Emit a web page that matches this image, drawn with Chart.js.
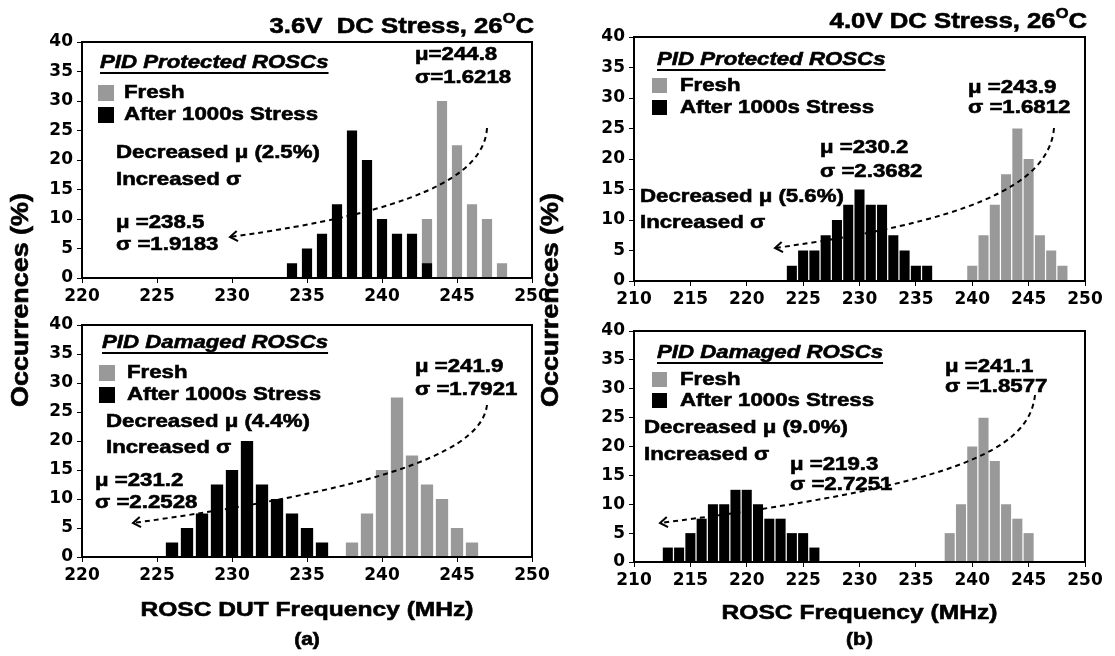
<!DOCTYPE html>
<html>
<head>
<meta charset="utf-8">
<script src="https://cdn.jsdelivr.net/npm/chart.js@4.4.1/dist/chart.umd.min.js"></script>
<style>
  body { margin: 0; background: #fff; }
  #wrap { position: relative; width: 1115px; height: 656px; overflow: hidden; }
  #wrap canvas { position: absolute; left: 0; top: 0; }
</style>
</head>
<body>
<div id="wrap">
  <canvas id="a1" width="1115" height="656"></canvas>
  <canvas id="a2" width="1115" height="656"></canvas>
  <canvas id="b1" width="1115" height="656"></canvas>
  <canvas id="b2" width="1115" height="656"></canvas>
</div>
<script>
const TICK_FONT = '"DejaVu Sans", sans-serif';
const TEXT_FONT = '"Liberation Sans", Arial, sans-serif';
const TEXT_STRETCH = 1.17; // labels are set a little wider than plain Arial
const GRAY = '#999999';

// tick labels
const xTicksA = [220, 225, 230, 235, 240, 245, 250];
const xTicksB = [210, 215, 220, 225, 230, 235, 240, 245, 250];
const yTicks = [0, 5, 10, 15, 20, 25, 30, 35, 40];

// (a) 3.6V stress, PID protected ROSCs -- bin centre (MHz) / occurrences (%)
const freqA1Fresh = [243, 244, 245, 246, 247, 248];
const occA1Fresh = [10, 30, 22.5, 12.5, 10, 2.5];
const freqA1Stress = [234, 235, 236, 237, 238, 239, 240, 241, 242, 243];
const occA1Stress = [2.5, 5, 7.5, 12.5, 25, 20, 10, 7.5, 7.5, 2.5];

// (a) 3.6V stress, PID damaged ROSCs
const freqA2Fresh = [238, 239, 240, 241, 242, 243, 244, 245, 246];
const occA2Fresh = [2.5, 7.5, 15, 27.5, 17.5, 12.5, 10, 5, 2.5];
const freqA2Stress = [226, 227, 228, 229, 230, 231, 232, 233, 234, 235, 236];
const occA2Stress = [2.5, 5, 7.5, 12.5, 15, 20, 12.5, 10, 7.5, 5, 2.5];

// (b) 4.0V stress, PID protected ROSCs
const freqB1Fresh = [240, 241, 242, 243, 244, 245, 246, 247, 248];
const occB1Fresh = [2.5, 7.5, 12.5, 17.5, 25, 20, 7.5, 5, 2.5];
const freqB1Stress = [224, 225, 226, 227, 228, 229, 230, 231, 232, 233, 234, 235, 236];
const occB1Stress = [2.5, 5, 5, 7.5, 10, 12.5, 15, 12.5, 12.5, 7.5, 5, 2.5, 2.5];

// (b) 4.0V stress, PID damaged ROSCs
const freqB2Fresh = [238, 239, 240, 241, 242, 243, 244, 245];
const occB2Fresh = [5, 10, 20, 25, 17.5, 10, 7.5, 5];
const freqB2Stress = [213, 214, 215, 216, 217, 218, 219, 220, 221, 222, 223, 224, 225, 226];
const occB2Stress = [2.5, 2.5, 5, 7.5, 10, 10, 12.5, 12.5, 10, 7.5, 7.5, 5, 5, 2.5];

const toPoints = (xs, ys) => xs.map((x, i) => ({ x: x, y: ys[i] }));

// draws heavy text widened by TEXT_STRETCH, returns the drawn width
function wideText(ctx, text, x, y, font, align) {
  ctx.font = font;
  const w = ctx.measureText(text).width * TEXT_STRETCH;
  let x0 = x;
  if (align === 'center') x0 = x - w / 2;
  else if (align === 'right') x0 = x - w;
  ctx.save();
  ctx.translate(x0, y);
  ctx.scale(TEXT_STRETCH, 1);
  ctx.textAlign = 'left';
  ctx.lineWidth = 0.6;
  ctx.strokeStyle = ctx.fillStyle;
  ctx.fillText(text, 0, 0);
  ctx.strokeText(text, 0, 0);
  ctx.restore();
  return w;
}

function wideWidth(ctx, text, font) {
  ctx.font = font;
  return ctx.measureText(text).width * TEXT_STRETCH;
}

// frame, legend, headings, mean/sigma labels and the dashed shift arrow
const panelNotes = {
  id: 'panelNotes',
  afterDraw(chart, args, o) {
    const { ctx, chartArea: a } = chart;
    const X = dx => a.left + dx;
    const Y = dy => a.top + dy;
    const body = `bold 19px ${TEXT_FONT}`;
    ctx.save();
    ctx.strokeStyle = '#000';
    ctx.fillStyle = '#000';
    ctx.lineWidth = 2;
    ctx.strokeRect(a.left, a.top, a.right - a.left, a.bottom - a.top);
    ctx.textBaseline = 'middle';

    // heading, underlined
    const [hx, hy] = o.headPos;
    const hw = wideText(ctx, o.heading, X(hx), Y(hy), `italic bold 19px ${TEXT_FONT}`);
    ctx.fillRect(X(hx), Y(hy) + 9, hw, 2);

    // legend
    const lg = o.legend;
    ctx.fillStyle = GRAY;
    ctx.fillRect(X(lg.x), Y(lg.y1), lg.size, lg.size);
    ctx.fillStyle = '#000';
    ctx.fillRect(X(lg.x), Y(lg.y2), lg.size, lg.size);
    wideText(ctx, 'Fresh', X(lg.tx), Y(lg.y1 + lg.size / 2), body);
    wideText(ctx, 'After 1000s Stress', X(lg.tx), Y(lg.y2 + lg.size / 2), body);

    o.texts.forEach(([t, dx, dy]) => wideText(ctx, t, X(dx), Y(dy), body));

    // dashed curve ending in an open arrow head
    const p = o.arrow.map(([dx, dy]) => [X(dx), Y(dy)]);
    ctx.strokeStyle = '#000';
    ctx.lineWidth = 2;
    ctx.setLineDash([5, 4]);
    ctx.beginPath();
    ctx.moveTo(p[0][0], p[0][1]);
    ctx.bezierCurveTo(p[1][0], p[1][1], p[2][0], p[2][1], p[3][0], p[3][1]);
    ctx.stroke();
    ctx.setLineDash([]);
    const ang = Math.atan2(p[3][1] - p[2][1], p[3][0] - p[2][0]);
    const hl = 9;
    ctx.beginPath();
    ctx.moveTo(p[3][0] - hl * Math.cos(ang - 0.6), p[3][1] - hl * Math.sin(ang - 0.6));
    ctx.lineTo(p[3][0], p[3][1]);
    ctx.lineTo(p[3][0] - hl * Math.cos(ang + 0.6), p[3][1] - hl * Math.sin(ang + 0.6));
    ctx.stroke();

    // stress condition above the upper panel
    if (o.title) {
      const t = o.title;
      const big = `bold 22px ${TEXT_FONT}`;
      const small = `bold 14px ${TEXT_FONT}`;
      const w1 = wideWidth(ctx, t.text, big);
      const w2 = wideWidth(ctx, t.sup, small);
      const w3 = wideWidth(ctx, t.tail, big);
      const right = a.right + 2;
      const base = a.top - 9;
      ctx.textBaseline = 'alphabetic';
      wideText(ctx, t.text, right - w1 - w2 - w3, base, big);
      wideText(ctx, t.sup, right - w2 - w3, base - 10, small);
      wideText(ctx, t.tail, right - w3, base, big);
      ctx.textBaseline = 'middle';
    }

    // axis titles and sub-figure tag under the lower panel
    if (o.axes) {
      const ax = o.axes;
      const cx = (a.left + a.right) / 2;
      wideText(ctx, ax.xTitle, cx, a.bottom + ax.xTitleDy, `bold 21px ${TEXT_FONT}`, 'center');
      wideText(ctx, ax.tag, cx, a.bottom + ax.tagDy, `bold 18px ${TEXT_FONT}`, 'center');
      ctx.save();
      ctx.translate(X(ax.yTitleDx), Y(ax.yTitleDy));
      ctx.rotate(-Math.PI / 2);
      wideText(ctx, ax.yTitle, 0, 0, `bold 23px ${TEXT_FONT}`, 'center');
      ctx.restore();
    }
    ctx.restore();
  }
};

function buildPanel(id, box, xTicks, fresh, stress, barRatio, notes) {
  const W = 1115, H = 656;
  const Y_AXIS_W = 60, X_AXIS_H = 30;
  const tickFont = { family: TICK_FONT, size: 17, weight: 'bold' };
  return new Chart(document.getElementById(id), {
    type: 'bar',
    data: {
      datasets: [
        { label: 'After 1000s Stress', data: stress, backgroundColor: '#000000' },
        { label: 'Fresh', data: fresh, backgroundColor: GRAY }
      ]
    },
    options: {
      responsive: false,
      animation: false,
      devicePixelRatio: 1,
      layout: {
        padding: {
          left: box.left - Y_AXIS_W,
          right: W - box.right,
          top: box.top,
          bottom: H - box.bottom - X_AXIS_H
        }
      },
      datasets: {
        bar: { grouped: false, barPercentage: barRatio, categoryPercentage: 1 }
      },
      scales: {
        x: {
          type: 'linear',
          offset: false,
          min: xTicks[0],
          max: xTicks[xTicks.length - 1],
          afterBuildTicks: s => { s.ticks = xTicks.map(v => ({ value: v })); },
          afterFit: s => { s.height = X_AXIS_H; },
          grid: { offset: false, drawOnChartArea: false, drawTicks: true, tickLength: 5, color: '#000', lineWidth: 1 },
          border: { display: false },
          ticks: { color: '#000', font: tickFont, padding: 3, maxRotation: 0, autoSkip: false }
        },
        y: {
          min: yTicks[0],
          max: yTicks[yTicks.length - 1],
          afterBuildTicks: s => { s.ticks = yTicks.map(v => ({ value: v })); },
          afterFit: s => { s.width = Y_AXIS_W; },
          grid: { drawOnChartArea: false, drawTicks: true, tickLength: 5, color: '#000', lineWidth: 1 },
          border: { display: false },
          ticks: { color: '#000', font: tickFont, padding: 4, autoSkip: false }
        }
      },
      plugins: {
        legend: { display: false },
        tooltip: { enabled: false },
        panelNotes: notes
      }
    },
    plugins: [panelNotes]
  });
}

buildPanel('a1', { left: 82, right: 532, top: 42, bottom: 278 }, xTicksA,
  toPoints(freqA1Fresh, occA1Fresh), toPoints(freqA1Stress, occA1Stress), 0.68, {
    heading: 'PID Protected ROSCs', headPos: [18, 21],
    legend: { x: 16, y1: 43, y2: 65, size: 16, tx: 42 },
    texts: [
      ['Decreased μ (2.5%)', 34, 111], ['Increased σ', 34, 138],
      ['μ =238.5', 34, 181], ['σ =1.9183', 34, 203],
      ['μ=244.8', 333, 13], ['σ=1.6218', 333, 36]
    ],
    arrow: [[405, 86], [402, 135], [330, 170], [148, 195]],
    title: { text: '3.6V  DC Stress, 26', sup: 'O', tail: 'C' }
  });

buildPanel('a2', { left: 82, right: 532, top: 325, bottom: 557 }, xTicksA,
  toPoints(freqA2Fresh, occA2Fresh), toPoints(freqA2Stress, occA2Stress), 0.82, {
    heading: 'PID Damaged ROSCs', headPos: [20, 18],
    legend: { x: 17, y1: 40, y2: 62, size: 16, tx: 45 },
    texts: [
      ['Decreased μ (4.4%)', 24, 97], ['Increased σ', 24, 123],
      ['μ =231.2', 13, 156], ['σ =2.2528', 13, 178],
      ['μ =241.9', 333, 42], ['σ =1.7921', 333, 65]
    ],
    arrow: [[405, 80], [400, 120], [330, 160], [51, 198]],
    axes: {
      xTitle: 'ROSC DUT Frequency (MHz)', xTitleDy: 53, tag: '(a)', tagDy: 83,
      yTitle: 'Occurrences (%)', yTitleDx: -60, yTitleDy: -25
    }
  });

buildPanel('b1', { left: 634, right: 1085, top: 37, bottom: 281 }, xTicksB,
  toPoints(freqB1Fresh, occB1Fresh), toPoints(freqB1Stress, occB1Stress), 0.89, {
    heading: 'PID Protected ROSCs', headPos: [23, 23],
    legend: { x: 18, y1: 41, y2: 63, size: 15, tx: 46 },
    texts: [
      ['Decreased μ (5.6%)', 6, 160], ['Increased σ', 6, 186],
      ['μ =230.2', 186, 111], ['σ =2.3682', 186, 135],
      ['μ =243.9', 334, 51], ['σ =1.6812', 334, 71]
    ],
    arrow: [[420, 91], [415, 150], [330, 185], [141, 211]],
    title: { text: '4.0V DC Stress, 26', sup: 'O', tail: 'C' }
  });

buildPanel('b2', { left: 634, right: 1085, top: 331, bottom: 562 }, xTicksB,
  toPoints(freqB2Fresh, occB2Fresh), toPoints(freqB2Stress, occB2Stress), 0.89, {
    heading: 'PID Damaged ROSCs', headPos: [23, 22],
    legend: { x: 18, y1: 41, y2: 62, size: 15, tx: 46 },
    texts: [
      ['Decreased μ (9.0%)', 10, 97], ['Increased σ', 10, 124],
      ['μ =219.3', 156, 134], ['σ =2.7251', 156, 154],
      ['μ =241.1', 311, 36], ['σ =1.8577', 311, 56]
    ],
    arrow: [[401, 64], [395, 120], [320, 155], [26, 192]],
    axes: {
      xTitle: 'ROSC Frequency (MHz)', xTitleDy: 51, tag: '(b)', tagDy: 78,
      yTitle: 'Occurrences (%)', yTitleDx: -82, yTitleDy: -31
    }
  });
</script>
</body>
</html>
